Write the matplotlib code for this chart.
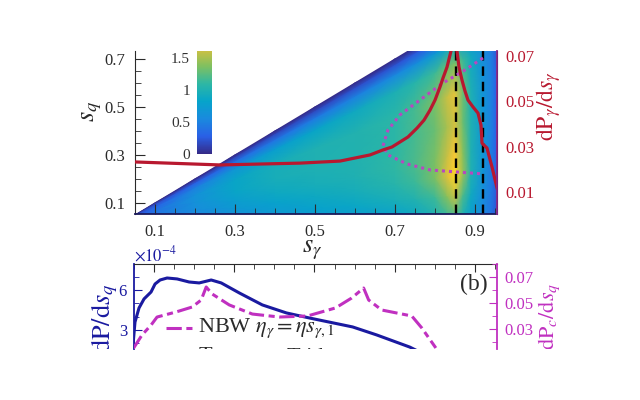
import numpy as np
import matplotlib
matplotlib.use('Agg')
import matplotlib.pyplot as plt
from matplotlib.colors import LinearSegmentedColormap, Normalize
from matplotlib.ticker import FixedLocator, MultipleLocator
from matplotlib.transforms import Bbox

plt.rcParams['font.family'] = ['Liberation Serif', 'DejaVu Serif']
plt.rcParams['mathtext.fontset'] = 'stix'

# heat map: columns are s_gamma, rows are s_q / s_gamma
heat_sg = [0.05, 0.1, 0.2, 0.3, 0.4, 0.5, 0.6, 0.7, 0.75, 0.8, 0.83, 0.85, 0.87, 0.89, 0.92, 0.94, 0.955]
heat_ratio = [1.0, 0.96, 0.90, 0.80, 0.65, 0.50, 0.35, 0.25, 0.15, 0.06, 0.0]
heat_vals = [
    [0, 0, 0, 0, 0, 0, 0, 0, 0, 0, 0, 0, 0, 0, 0, 0, 0],
    [.1, .1, .12, .15, .18, .18, .2, .22, .25, .3, .35, .35, .3, .25, .18, .12, .05],
    [.2, .22, .3, .38, .42, .46, .5, .55, .6, .7, .8, .8, .7, .6, .42, .3, .15],
    [.25, .32, .5, .68, .78, .85, .9, .98, 1.05, 1.15, 1.3, 1.35, 1.15, .9, .6, .45, .22],
    [.3, .4, .62, .85, .95, 1.0, 1.02, 1.08, 1.18, 1.35, 1.6, 1.75, 1.3, .98, .65, .5, .28],
    [.3, .42, .62, .85, .95, 1.0, 1.02, 1.08, 1.18, 1.3, 1.5, 1.65, 1.3, 1.0, .68, .5, .28],
    [.3, .4, .58, .75, .88, .95, 1.0, 1.1, 1.2, 1.35, 1.6, 1.9, 1.4, 1.0, .68, .48, .28],
    [.3, .38, .54, .7, .8, .88, .95, 1.05, 1.15, 1.35, 1.7, 2.0, 1.45, 1.0, .66, .46, .26],
    [.3, .35, .5, .62, .72, .8, .86, .95, 1.02, 1.15, 1.4, 1.6, 1.2, .9, .6, .44, .24],
    [.3, .32, .44, .54, .62, .68, .74, .8, .88, 1.0, 1.15, 1.25, 1.0, .78, .54, .4, .22],
    [.3, .3, .4, .5, .56, .62, .68, .72, .8, .92, 1.02, 1.1, .92, .72, .5, .36, .2],
]

# (a) red curve
red_sg = [.0525, .2625, .4625, .5625, .6125, .6375, .67, .6925, .7125, .7325, .755, .7725, .7875, .8, .8125,
          .82, .83, .84, .8475, .855, .86, .8675, .875, .8825, .895, .9075, .915, .9175, .93, .9425, .955]
red_val = [.0232, .0219, .0227, .0236, .0254, .0263, .0285, .0298, .032, .0342, .0381, .0416, .046, .0504, .0562,
           .0601, .0649, .072, .08, .072, .0649, .0592, .0544, .0504, .0474, .0447, .0394, .0315, .0293, .021, .0118]

# (a) dotted boundary
dot_sg = [.92, .8675, .82, .7625, .7125, .6825, .67, .6825, .73, .7875, .855, .92]
dot_sq = [.704, .646, .6, .529, .467, .404, .3375, .3, .2625, .2375, .229, .221]

vline_sg = [.8525, .92]

# (b) curves
blue_sg = [.0475, .0525, .0625, .075, .0925, .1025, .115, .1325, .1575, .1875, .2125, .2425, .2675, .3125, .37,
           .43, .4875, .595, .655, .7375, .7575]
blue_val = [1.875, 3.6, 4.65, 5.33, 5.85, 6.45, 6.75, 6.9, 6.83, 6.6, 6.53, 6.75, 6.53, 5.78, 4.88,
            4.28, 3.9, 3.23, 2.63, 1.72, 1.42]
mag_sg = [.0475, .07, .0925, .1075, .155, .195, .2175, .23, .245, .2875, .345, .4125, .4825, .5525,
          .5925, .6225, .635, .6675, .7425, .7675, .8025]
mag_val = [.0146, .0254, .033, .0392, .0431, .0469, .0523, .0623, .0569, .0485, .0415, .0392, .04,
           .0462, .0538, .0615, .0523, .0446, .04, .0308, .0154]

tick_sg = [0.1, 0.3, 0.5, 0.7, 0.9]
tick_sq = [0.1, 0.3, 0.5, 0.7]
tick_red = [0.01, 0.03, 0.05, 0.07]
tick_left_b = [3, 6]
tick_mag = [0.03, 0.05, 0.07]
tick_cbar = [0, 0.5, 1, 1.5]
cbar_labels = ['0', '0.5', '1', '1.5']

parula = ['#352a87', '#2a60e6', '#1a8ade', '#06a4ca', '#2eb7a4', '#80c060', '#d5c040', '#fec832', '#f9fb0e']
cmap = LinearSegmentedColormap.from_list('parula_like', parula)
norm = Normalize(0, 2.2)

RED = '#b8182f'
BLUE = '#1a1aa0'
MAG = '#c030c0'
DARK = '#2a2a2a'
W, H = 640, 400


def px_axes(x0, x1, y0, y1):
    return fig.add_axes([x0 / W, 1 - y1 / H, (x1 - x0) / W, (y1 - y0) / H])


fig = plt.figure(figsize=(6.4, 4.0), dpi=100)
crop = Bbox([[0, H - 349], [W, H - 51]])


def cut(t):
    # the source picture is cropped above and below
    t.set_clip_box(crop)
    t.set_clip_on(True)


# panel a
ax = px_axes(135, 497, 51, 214)
sg = np.array(heat_sg)
X = np.tile(sg, (len(heat_ratio), 1))
Y = np.array(heat_ratio)[:, None] * sg
mesh = ax.pcolormesh(X, Y, np.array(heat_vals), cmap=cmap, norm=norm, shading='gouraud', rasterized=True)
ax.set_xlim(0.05, 0.955)
ax.set_ylim(0.054, 0.733)
for v in vline_sg:
    ax.axvline(v, color='k', ls=(0, (4, 2.5)), lw=1.7)
ax.plot(dot_sg, dot_sq, color='#b848c0', ls=(0, (1, 1.3)), lw=2.2)
ax.spines['top'].set_visible(False)
ax.spines['left'].set_color(DARK)
ax.spines['bottom'].set_color('#1a1a5a')
ax.spines['bottom'].set_linewidth(1.3)
ax.set_xticks(tick_sg)
ax.set_yticks(tick_sq)
ax.xaxis.set_minor_locator(MultipleLocator(0.05))
ax.yaxis.set_minor_locator(MultipleLocator(0.05))
ax.tick_params(which='major', direction='in', length=7, labelsize=12, colors=DARK, pad=7)
ax.tick_params(which='minor', direction='in', length=4, color=DARK)
ax.set_xticklabels(['0.1', '0.3', '0.5', '0.7', '0.9'])
ax.set_yticklabels(['0.1', '0.3', '0.5', '0.7'])
fig.text(312 / W, 1 - 250 / H, r'$s_{\gamma}$', fontsize=19, ha='center', va='center', color=DARK)
fig.text(92 / W, 1 - 111 / H, r'$s_{q}$', fontsize=19, ha='center', va='center', rotation=90, color=DARK)

axr = ax.twinx()
axr.plot(red_sg, red_val, color=RED, lw=2.3, solid_joinstyle='round')
axr.set_ylim(0.00033, 0.072)
axr.set_yticks(tick_red)
axr.set_yticklabels(['0.01', '0.03', '0.05', '0.07'])
axr.tick_params(axis='y', which='both', length=0, labelsize=12, labelcolor=RED, pad=6)
axr.spines['top'].set_visible(False)
axr.spines['left'].set_visible(False)
axr.spines['bottom'].set_visible(False)
axr.spines['right'].set_color('#8a2a8a')
axr.spines['right'].set_linewidth(1.3)
for lbl in axr.get_yticklabels():
    cut(lbl)
fig.text(549 / W, 1 - 106 / H, r'$\mathrm{dP}_{\gamma}/\mathrm{d}s_{\gamma}$', fontsize=17, color=RED,
         rotation=90, ha='center', va='center')

# colour bar inset
cax = px_axes(197, 212, 51, 154)
cb = fig.colorbar(mesh, cax=cax)
cax.set_ylim(0, 1.61)
cb.outline.set_visible(False)
cax.yaxis.set_major_locator(FixedLocator(tick_cbar))
cax.yaxis.tick_left()
cax.set_yticklabels(cbar_labels)
cax.tick_params(axis='y', length=0, labelsize=11, colors='#333333', pad=5)

# panel b
bx = px_axes(134, 497, 264, 349)
bx.plot(blue_sg, blue_val, color=BLUE, lw=2.2, solid_joinstyle='round')
bx.set_xlim(0.05, 0.955)
bx.set_ylim(1.575, 7.95)
bx.set_yticks(tick_left_b)
bx.yaxis.set_minor_locator(MultipleLocator(1))
bx.xaxis.tick_top()
bx.set_xticks(tick_sg)
bx.set_xticklabels([])
bx.xaxis.set_minor_locator(MultipleLocator(0.05))
bx.tick_params(axis='x', which='major', direction='in', length=6, color=DARK)
bx.tick_params(axis='x', which='minor', direction='in', length=3.5, color=DARK)
bx.tick_params(axis='y', which='major', direction='in', length=6, color=BLUE, labelcolor=BLUE, labelsize=12, pad=5)
bx.tick_params(axis='y', which='minor', direction='in', length=3.5, color=BLUE)
bx.spines['bottom'].set_visible(False)
bx.spines['right'].set_visible(False)
bx.spines['left'].set_color(BLUE)
bx.spines['left'].set_linewidth(1.3)
bx.spines['top'].set_color(DARK)
fig.text(134 / W, 1 - 255 / H, r'$\times 10^{-4}$', fontsize=12, color=BLUE, ha='left', va='center')
cut(fig.text(105 / W, 1 - 318 / H, r'$\mathrm{dP}/\mathrm{d}s_{q}$', fontsize=19, color=BLUE,
             rotation=90, ha='center', va='center'))

bxr = bx.twinx()
bxr.plot(mag_sg, mag_val, color=MAG, lw=2.2, ls=(0, (5, 1.5, 2, 1.5)))
bxr.set_ylim(0.0146, 0.08)
bxr.set_yticks(tick_mag)
bxr.set_yticklabels(['0.03', '0.05', '0.07'])
bxr.yaxis.set_minor_locator(MultipleLocator(0.01))
bxr.tick_params(axis='y', which='major', direction='in', length=6, color=MAG, labelcolor=MAG, labelsize=12, pad=5)
bxr.tick_params(axis='y', which='minor', direction='in', length=3.5, color=MAG)
for s in ['top', 'bottom', 'left']:
    bxr.spines[s].set_visible(False)
bxr.spines['right'].set_color(MAG)
bxr.spines['right'].set_linewidth(1.3)
cut(fig.text(549 / W, 1 - 316 / H, r'$\mathrm{dP}_{c}/\mathrm{d}s_{q}$', fontsize=16, color=MAG,
             rotation=90, ha='center', va='center'))

# legend, drawn by hand because the picture cuts it off
bxr.plot([0.13, 0.2], [0.0308, 0.0308], color=MAG, lw=2.2, ls=(0, (5, 1.5, 2, 1.5)))
fig.text(198 / W, 1 - 328 / H, r'NBW $\eta_{\gamma}=\eta s_{\gamma,1}$', fontsize=16, color=DARK,
         ha='left', va='center')
cut(fig.text(198 / W, 1 - 357 / H, r'Target $\gamma$', fontsize=16, color=DARK, ha='left', va='center'))
cut(fig.text(287 / W, 1 - 357 / H, 'Trident', fontsize=16, color=DARK, ha='left', va='center'))
fig.text(474 / W, 1 - 284 / H, '(b)', fontsize=17, color=DARK, ha='center', va='center')

fig.savefig('out.png', dpi=100)
